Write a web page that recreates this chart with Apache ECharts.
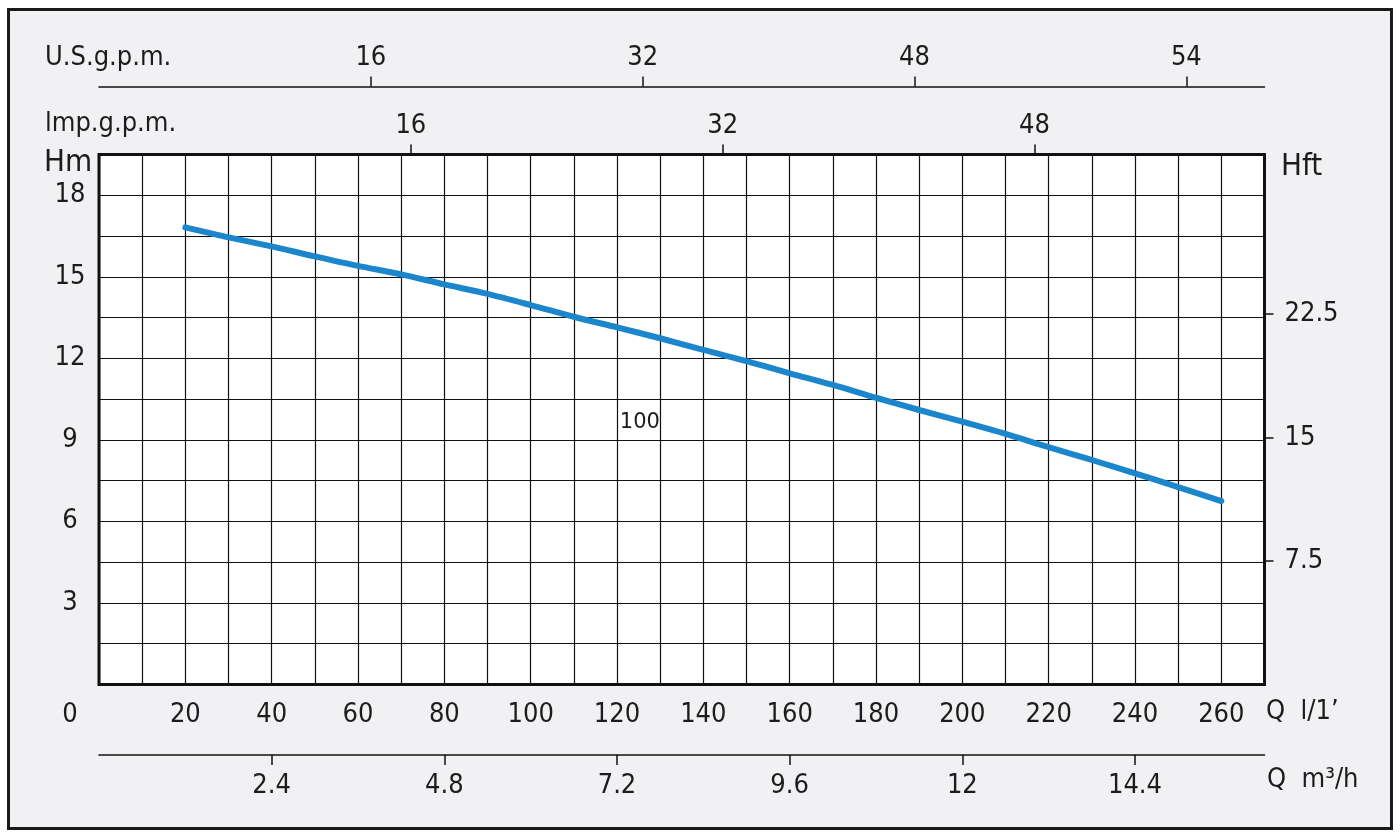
<!DOCTYPE html>
<html>
<head>
<meta charset="utf-8">
<script src="https://cdn.jsdelivr.net/npm/echarts@6/dist/echarts.min.js"></script>
<style>
html,body{margin:0;padding:0;background:#ffffff;}
#chart{width:1400px;height:837px;}
</style>
</head>
<body>
<div id="chart"></div>
<script>
// ---- data ----
const qLpm = [20, 30, 40, 50, 60, 70, 80, 90, 100, 110, 120, 130, 140, 150, 160, 170, 180, 190, 200, 210, 220, 230, 240, 250, 260];
const headM = [16.82, 16.45, 16.12, 15.75, 15.40, 15.09, 14.72, 14.37, 13.96, 13.53, 13.14, 12.74, 12.31, 11.90, 11.45, 11.02, 10.55, 10.10, 9.67, 9.22, 8.73, 8.26, 7.77, 7.26, 6.75];
const curveName = '100';
const curveLabelAt = [125.3, 9.65];

const m3hTicks = [2.4, 4.8, 7.2, 9.6, 12, 14.4];
const usTicks = [16, 32, 48, 64];
const usLabels = ['16', '32', '48', '54'];
const impTicks = [16, 32, 48];
const hftTicks = [7.5, 15, 22.5];

// ---- style ----
const FONT = "'Liberation Sans Narrow', 'DejaVu Sans Condensed', 'Liberation Sans', sans-serif";
const FS = 27;
const INK = '#1c1c1c';
const lbl = (extra) => Object.assign({ fontFamily: FONT, fontSize: FS, color: INK }, extra || {});

const chart = echarts.init(document.getElementById('chart'), null, { renderer: 'canvas' });

const option = {
  animation: false,
  backgroundColor: '#ffffff',
  graphic: [
    { type: 'rect', z: -10, shape: { x: 8.5, y: 9.5, width: 1383, height: 819 },
      style: { fill: '#f1f1f3', stroke: '#1a1a1a', lineWidth: 3 } },
    { type: 'text', left: 45, top: 44, style: { text: 'U.S.g.p.m.', font: FS + 'px ' + FONT, fill: INK } },
    { type: 'text', left: 45, top: 110, style: { text: 'lmp.g.p.m.', font: FS + 'px ' + FONT, fill: INK } },
    { type: 'text', left: 44, top: 147, style: { text: 'Hm', font: '31px ' + FONT, fill: INK } },
    { type: 'text', left: 1281, top: 151, style: { text: 'Hft', font: '31px ' + FONT, fill: INK } },
    { type: 'text', left: 1266, top: 698, style: { text: 'Q  l/1\u2019', font: FS + 'px ' + FONT, fill: INK } },
    { type: 'text', left: 1267, top: 766, style: { text: 'Q  m\u00b3/h', font: FS + 'px ' + FONT, fill: INK } }
  ],
  grid: {
    left: 99, top: 154.5, width: 1165.5, height: 530,
    show: true, backgroundColor: '#ffffff', borderColor: '#111111', borderWidth: 3
  },
  xAxis: [
    { // l/min
      type: 'value', position: 'bottom', min: 0, max: 270, interval: 10,
      axisLine: { show: false, onZero: false }, axisTick: { show: false },
      splitLine: { show: true, lineStyle: { color: '#111', width: 1.2 } },
      axisLabel: Object.assign(lbl(), {
        margin: 17,
        formatter: (v) => v === 0 ? '{z|0}' : (v % 20 === 0 && v < 270 ? String(v) : ''),
        rich: { z: { fontFamily: FONT, fontSize: FS, color: INK, padding: [0, 58, 0, 0] } }
      })
    },
    { // m3/h
      type: 'value', position: 'bottom', offset: 70.5, min: 0, max: 16.2,
      axisLine: { show: true, onZero: false, lineStyle: { color: '#111', width: 1.5 } },
      axisTick: { show: true, inside: false, length: 10, customValues: m3hTicks, lineStyle: { color: '#111', width: 1.5 } },
      splitLine: { show: false },
      axisLabel: Object.assign(lbl(), { margin: 17, customValues: m3hTicks, formatter: (v) => String(v) })
    },
    { // US gpm
      type: 'value', position: 'top', offset: 68, min: 0, max: 68.6,
      axisLine: { show: true, onZero: false, lineStyle: { color: '#111', width: 1.5 } },
      axisTick: { show: true, inside: false, length: 10, customValues: usTicks, lineStyle: { color: '#111', width: 1.5 } },
      splitLine: { show: false },
      axisLabel: Object.assign(lbl(), {
        margin: 15, customValues: usTicks,
        formatter: (v) => { const i = usTicks.indexOf(v); return i >= 0 ? usLabels[i] : ''; }
      })
    },
    { // Imp gpm
      type: 'value', position: 'top', offset: 0, min: 0, max: 59.8,
      axisLine: { show: false, onZero: false },
      axisTick: { show: true, inside: false, length: 10, customValues: impTicks, lineStyle: { color: '#111', width: 1.5 } },
      splitLine: { show: false },
      axisLabel: Object.assign(lbl(), { margin: 15, customValues: impTicks, formatter: (v) => String(v) })
    }
  ],
  yAxis: [
    { // Hm
      type: 'value', position: 'left', min: 0, max: 19.5, interval: 1.5,
      axisLine: { show: false, onZero: false }, axisTick: { show: false },
      splitLine: { show: true, lineStyle: { color: '#111', width: 1.2 } },
      axisLabel: Object.assign(lbl(), {
        margin: 29, align: 'center', padding: [10, 0, 0, 0],
        formatter: (v) => (v > 0 && Math.abs(v / 3 - Math.round(v / 3)) < 1e-6) ? String(v) : ''
      })
    },
    { // Hft
      type: 'value', position: 'right', min: 0, max: 32.2,
      axisLine: { show: false, onZero: false },
      axisTick: { show: true, inside: false, length: 9, customValues: hftTicks, lineStyle: { color: '#111', width: 1.5 } },
      splitLine: { show: false },
      axisLabel: Object.assign(lbl(), { margin: 20, customValues: hftTicks, formatter: (v) => String(v) })
    }
  ],
  series: [
    {
      type: 'line', xAxisIndex: 0, yAxisIndex: 0,
      data: qLpm.map((q, i) => [q, headM[i]]),
      smooth: 0.3, showSymbol: false, symbol: 'none',
      lineStyle: { color: '#1b86cb', width: 6, cap: 'round' },
      z: 5,
      markPoint: {
        symbol: 'circle', symbolSize: 0, silent: true,
        label: { show: true, position: 'inside', formatter: curveName,
          fontFamily: "'DejaVu Sans', sans-serif", fontSize: 21, color: INK },
        data: [{ coord: curveLabelAt, value: curveName }]
      }
    }
  ]
};
chart.setOption(option);
</script>
</body>
</html>
